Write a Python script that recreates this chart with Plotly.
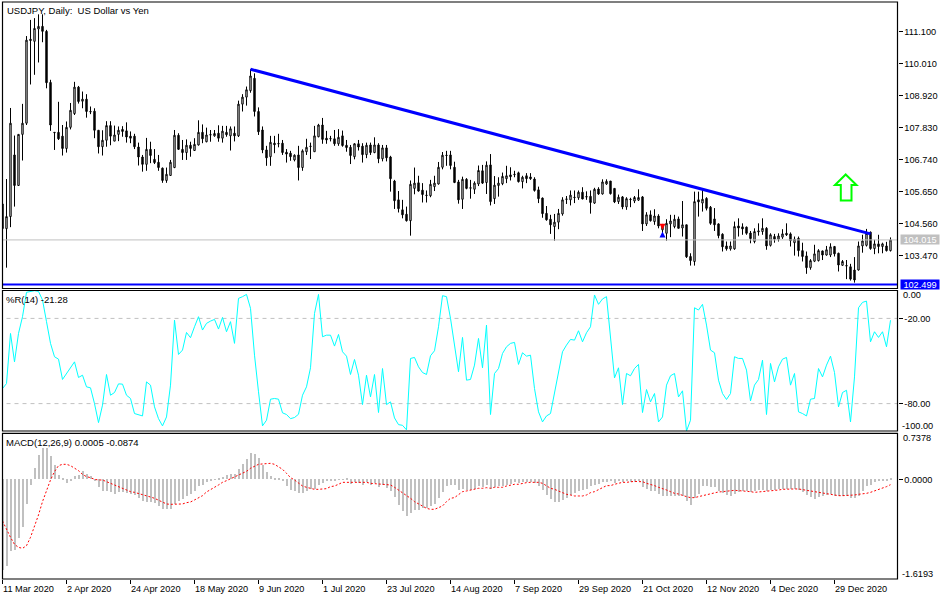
import plotly.graph_objects as go

W, H = 950, 600

# USDJPY daily bars
opens = [
    105.24,104.40,104.81,106.91,105.87,107.61,107.99,110.85,110.78,111.20,
    111.29,111.12,109.38,107.68,107.68,107.55,107.13,107.85,108.32,109.22,
    108.74,108.81,108.39,108.40,107.75,107.19,107.41,107.91,107.38,107.61,
    107.78,107.73,107.55,107.55,107.18,106.84,106.59,107.10,106.76,106.66,
    106.46,106.04,106.21,106.48,107.58,107.10,106.99,107.24,107.06,107.25,
    107.68,107.36,107.59,107.56,107.65,107.48,107.68,107.56,107.65,107.56,
    108.64,108.88,109.10,109.52,108.39,107.76,107.08,106.85,107.31,107.30,
    107.31,107.00,106.97,106.74,106.91,106.48,107.02,107.21,107.02,107.53,
    107.93,107.48,107.47,107.46,107.29,107.56,107.24,107.17,106.85,107.29,
    107.21,106.92,107.25,106.99,107.25,106.78,107.15,106.84,106.02,105.38,
    105.04,104.89,104.67,105.77,105.96,105.71,105.54,105.52,105.83,105.92,
    106.49,106.90,106.91,106.49,105.99,105.40,106.08,105.79,105.74,105.92,
    106.37,105.97,106.57,105.42,105.87,105.93,106.10,106.23,106.25,106.30,
    106.00,106.20,106.16,106.09,105.72,105.44,104.92,104.72,104.47,104.62,
    104.90,105.41,105.38,105.47,105.45,105.64,105.49,105.50,105.27,105.75,
    105.58,105.92,106.02,105.77,105.32,105.48,105.14,105.40,105.34,105.37,
    105.48,104.56,104.87,104.64,104.83,104.36,104.24,104.56,104.47,104.73,
    104.42,104.53,103.45,103.28,105.38,105.27,105.43,105.13,104.73,104.56,
    104.21,103.81,103.71,103.71,104.49,104.46,104.45,104.25,103.96,104.29,
    104.30,104.41,103.83,104.13,104.04,104.11,104.24,104.22,103.92,104.07,
    103.65,103.47,103.07,103.29,103.31,103.64,103.50,103.50,103.79,103.56,
    103.15,103.14,103.10,102.99,102.99,103.81,103.83,104.28,103.72,103.88,
    103.79,103.81,103.65,
]
highs = [
    105.24,106.09,108.51,107.57,107.61,108.65,110.96,111.51,111.57,111.70,
    111.70,111.17,109.47,107.68,108.72,107.93,108.05,108.68,109.40,109.26,
    109.07,108.98,108.56,108.50,107.75,107.75,108.06,108.06,107.91,107.88,
    107.89,108.02,107.71,107.63,107.33,106.91,107.49,107.36,107.11,106.91,
    106.48,106.48,106.74,107.76,107.65,107.42,107.44,107.36,107.48,108.09,
    107.95,107.84,107.76,107.76,107.92,107.90,107.90,107.88,107.88,108.76,
    108.98,109.24,109.83,109.69,108.53,107.88,107.22,107.56,107.56,107.63,
    107.42,107.11,107.05,106.93,107.22,107.10,107.46,107.33,107.90,107.97,
    108.17,107.73,107.56,107.76,107.79,107.74,107.42,107.25,107.31,107.42,
    107.31,107.33,107.33,107.51,107.31,107.25,107.25,106.88,106.06,105.68,
    105.38,105.15,106.04,106.48,106.20,105.95,105.70,106.06,106.20,106.67,
    107.01,107.05,107.05,106.68,106.06,106.17,106.12,106.06,106.01,106.55,
    106.57,106.69,106.94,106.19,106.15,106.31,106.54,106.49,106.37,106.34,
    106.20,106.29,106.29,106.15,105.83,105.46,105.17,104.87,104.90,105.07,
    105.47,105.51,105.70,105.70,105.70,105.81,105.67,105.70,105.79,105.81,
    106.08,106.08,106.02,105.77,105.56,105.51,105.47,105.45,105.51,105.74,
    105.51,104.96,105.02,105.06,104.89,104.56,104.72,104.87,104.87,104.81,
    105.34,104.53,103.56,105.66,105.66,105.75,105.47,105.17,105.10,104.58,
    104.24,103.96,103.96,104.64,104.75,104.58,104.47,104.32,104.41,104.58,
    104.75,104.45,104.24,104.22,104.24,104.38,104.58,104.27,104.13,104.13,
    103.92,103.62,103.36,103.85,103.70,103.65,103.81,103.90,103.81,103.58,
    103.33,103.33,103.20,103.43,103.96,104.19,104.39,104.30,104.02,104.19,
    103.92,103.95,104.10,
]
lows = [
    104.40,103.07,104.45,105.15,105.87,106.72,107.93,109.31,109.64,110.06,
    110.75,109.18,107.73,107.08,107.42,106.89,106.99,107.78,108.27,108.66,
    108.50,108.18,108.30,107.48,106.96,106.89,107.19,107.24,107.38,107.38,
    107.53,107.33,107.31,107.11,106.55,106.34,106.37,106.63,106.60,106.37,
    105.96,105.96,106.21,106.46,107.08,106.74,106.74,106.85,107.06,107.23,
    107.31,107.34,107.36,107.53,107.36,107.33,107.53,107.06,107.37,107.52,
    108.39,108.59,109.03,108.22,107.59,106.97,106.54,106.54,106.97,107.17,
    106.91,106.65,106.71,106.69,106.04,106.37,106.91,106.77,107.02,107.51,
    107.29,107.29,107.37,107.22,107.22,107.19,107.02,106.60,106.76,107.06,
    106.65,106.80,106.91,106.97,106.63,106.69,106.69,105.66,105.07,104.95,
    104.75,104.64,104.16,105.57,105.66,105.29,105.29,105.47,105.68,105.90,
    106.42,106.54,106.42,105.95,105.25,105.07,105.74,105.42,105.58,105.85,
    105.92,105.58,105.19,105.24,105.49,105.88,105.95,106.04,106.15,105.97,
    105.77,105.95,106.06,105.66,105.27,104.77,104.67,104.22,103.99,104.38,
    104.84,105.24,105.19,105.27,105.38,105.40,105.38,104.91,105.24,105.55,
    105.56,105.89,105.56,105.27,105.24,105.06,105.04,105.13,105.27,105.34,
    104.32,104.49,104.64,104.53,104.41,104.19,103.99,104.11,104.41,104.41,
    104.13,103.40,103.14,103.14,104.81,104.98,105.02,104.53,104.32,104.07,
    103.62,103.65,103.65,103.68,104.13,104.19,104.19,103.90,103.90,104.16,
    104.19,103.68,103.79,103.92,103.96,104.05,104.15,103.79,103.48,103.45,
    103.28,102.86,103.00,103.26,103.28,103.33,103.48,103.43,103.45,102.94,
    103.13,102.68,102.63,102.56,102.97,103.58,103.79,103.68,103.53,103.56,
    103.56,103.62,103.62,
]
closes = [
    104.40,104.81,107.99,105.87,107.61,107.99,110.82,110.81,111.22,111.29,
    111.12,109.37,107.93,107.67,107.46,107.13,107.85,108.43,109.22,108.73,
    108.81,108.39,108.38,107.75,107.19,107.41,107.91,107.55,107.59,107.75,
    107.71,107.52,107.48,107.19,106.84,106.59,107.10,106.89,106.65,106.48,
    106.04,106.25,106.66,107.58,107.10,106.99,107.24,107.13,107.27,107.68,
    107.46,107.59,107.60,107.64,107.48,107.72,107.60,107.80,107.56,108.64,
    108.88,109.13,109.60,108.39,107.70,107.08,106.81,107.34,107.26,107.29,
    106.99,106.94,106.85,106.90,106.48,107.05,107.17,107.20,107.56,107.93,
    107.44,107.42,107.46,107.29,107.51,107.23,107.16,106.89,107.29,107.18,
    106.92,107.24,106.99,107.25,106.78,107.15,106.81,106.10,105.35,105.08,
    104.87,104.67,105.91,105.95,105.68,105.56,105.53,105.91,105.95,106.49,
    106.90,106.89,106.55,105.97,105.38,106.08,105.77,105.78,105.95,106.38,
    105.95,106.56,105.32,105.88,105.95,106.18,106.20,106.17,106.24,106.00,
    106.15,106.10,106.10,105.70,105.42,104.91,104.70,104.53,104.62,104.92,
    105.38,105.40,105.54,105.46,105.64,105.41,105.48,105.29,105.74,105.58,
    105.99,106.01,105.59,105.31,105.47,105.14,105.42,105.39,105.46,105.46,
    104.56,104.87,104.67,104.83,104.49,104.51,104.58,104.66,104.72,104.41,
    104.53,103.44,103.31,105.32,105.31,105.40,105.09,104.58,104.53,104.16,
    103.78,103.71,103.81,104.47,104.42,104.39,104.24,104.06,104.30,104.32,
    104.41,103.81,104.19,104.04,104.15,104.22,104.19,103.99,104.04,103.65,
    103.45,103.07,103.31,103.54,103.65,103.50,103.68,103.78,103.54,103.16,
    103.28,103.13,102.68,102.65,103.81,103.98,104.24,103.72,103.88,103.79,
    103.88,103.65,104.015,
]

# Williams %R(14)
wpr = [
    -69.4,-65.9,-30.6,-50.6,-30.6,-18.8,-1.6,-0.8,-0.5,-1.0,
    -7.0,-22.3,-37.6,-47.0,-48.7,-63.0,-58.8,-55.3,-50.6,-61.6,
    -60.0,-68.2,-68.9,-80.0,-93.4,-81.1,-59.5,-74.1,-72.2,-66.1,
    -66.3,-74.1,-76.4,-87.0,-87.7,-88.7,-64.7,-67.0,-82.3,-90.6,
    -95.7,-89.4,-67.0,-21.2,-45.4,-42.3,-29.9,-33.6,-25.9,-18.8,
    -28.2,-23.5,-21.9,-20.7,-27.5,-19.3,-29.4,-22.3,-37.6,-5.9,
    -4.7,-3.1,-12.9,-45.9,-71.7,-95.7,-91.7,-76.9,-76.4,-76.9,
    -86.5,-87.7,-90.6,-89.8,-87.5,-74.1,-68.2,-54.8,-16.5,-3.1,
    -32.9,-31.8,-31.8,-39.5,-31.3,-43.5,-46.6,-59.5,-48.9,-60.0,
    -80.7,-60.0,-75.3,-59.5,-86.3,-55.3,-80.7,-78.8,-90.1,-94.8,
    -95.3,-98.5,-48.2,-47.5,-54.1,-58.1,-59.5,-46.3,-42.8,-25.9,
    -4.0,-4.7,-20.0,-38.8,-57.6,-33.4,-63.5,-63.0,-52.9,-34.1,
    -54.8,-24.7,-87.7,-58.8,-55.3,-44.7,-40.0,-37.6,-36.9,-52.4,
    -44.2,-46.6,-45.9,-69.4,-85.8,-92.9,-88.7,-87.0,-72.9,-58.8,
    -43.5,-38.8,-34.8,-35.3,-28.7,-36.5,-30.1,-25.9,-3.5,-10.1,
    -6.3,-4.7,-32.9,-61.9,-54.8,-80.7,-58.8,-60.4,-55.3,-52.4,
    -86.3,-70.1,-78.8,-72.9,-92.9,-89.4,-67.0,-60.4,-58.8,-75.3,
    -71.0,-99.3,-91.7,-12.5,-14.1,-10.1,-24.7,-42.3,-44.2,-63.5,
    -72.9,-77.1,-72.9,-47.0,-48.2,-48.2,-56.4,-78.1,-67.0,-63.0,
    -49.4,-87.7,-51.7,-64.7,-54.1,-48.7,-47.5,-67.0,-58.8,-85.8,
    -87.0,-88.7,-76.9,-76.4,-55.3,-61.2,-52.9,-46.6,-58.1,-82.3,
    -72.2,-70.6,-92.9,-61.2,-12.5,-8.7,-7.8,-36.5,-29.4,-33.4,
    -29.4,-40.0,-21.28,
]

# MACD(12,26,9) histogram and signal
macd = [
    -1.476,-1.421,-1.177,-1.150,-0.966,-0.787,-0.401,-0.103,0.179,0.396,
    0.505,0.505,0.380,0.222,0.060,0.002,-0.065,-0.038,0.054,0.071,
    0.125,0.087,0.043,-0.038,-0.136,-0.190,-0.190,-0.212,-0.239,-0.217,
    -0.217,-0.228,-0.244,-0.266,-0.309,-0.363,-0.374,-0.374,-0.391,-0.434,
    -0.483,-0.488,-0.483,-0.401,-0.363,-0.326,-0.271,-0.239,-0.190,-0.119,
    -0.092,-0.054,-0.022,-0.011,0.011,0.033,0.071,0.087,0.087,0.168,
    0.244,0.331,0.423,0.412,0.342,0.233,0.109,0.043,0.016,0.005,
    -0.038,-0.119,-0.174,-0.201,-0.228,-0.228,-0.201,-0.163,-0.163,-0.092,
    -0.065,-0.038,-0.038,-0.038,-0.011,-0.001,0.001,-0.081,-0.054,-0.065,
    -0.092,-0.049,-0.092,-0.065,-0.130,-0.092,-0.146,-0.190,-0.298,-0.418,
    -0.515,-0.597,-0.553,-0.510,-0.499,-0.472,-0.472,-0.434,-0.401,-0.309,
    -0.217,-0.109,-0.092,-0.092,-0.174,-0.163,-0.184,-0.174,-0.157,-0.109,
    -0.130,-0.092,-0.163,-0.130,-0.119,-0.119,-0.092,-0.076,-0.049,-0.065,
    -0.049,-0.054,-0.049,-0.065,-0.119,-0.174,-0.255,-0.320,-0.374,-0.369,
    -0.336,-0.309,-0.266,-0.228,-0.201,-0.174,-0.163,-0.119,-0.092,-0.081,
    -0.043,-0.049,-0.038,-0.065,-0.038,-0.054,-0.038,-0.054,-0.043,-0.038,
    -0.136,-0.163,-0.190,-0.190,-0.239,-0.282,-0.282,-0.282,-0.271,-0.271,
    -0.282,-0.363,-0.429,-0.309,-0.239,-0.119,-0.119,-0.130,-0.130,-0.190,
    -0.228,-0.266,-0.282,-0.239,-0.212,-0.201,-0.201,-0.212,-0.201,-0.174,
    -0.174,-0.190,-0.174,-0.174,-0.163,-0.157,-0.157,-0.163,-0.157,-0.174,
    -0.217,-0.266,-0.293,-0.320,-0.293,-0.271,-0.260,-0.239,-0.271,-0.271,
    -0.271,-0.282,-0.315,-0.309,-0.271,-0.201,-0.109,-0.092,-0.054,-0.038,
    -0.022,-0.022,0.0005,
]
signal = [
    -0.678,-0.825,-0.944,-1.058,-1.107,-1.123,-1.080,-0.944,-0.770,-0.580,
    -0.363,-0.174,-0.011,0.125,0.222,0.244,0.244,0.222,0.179,0.141,
    0.081,0.043,0.027,0.0,-0.011,-0.011,-0.038,-0.065,-0.092,-0.130,
    -0.157,-0.179,-0.201,-0.212,-0.228,-0.255,-0.271,-0.288,-0.309,-0.336,
    -0.374,-0.401,-0.407,-0.407,-0.401,-0.401,-0.380,-0.369,-0.336,-0.298,
    -0.266,-0.206,-0.174,-0.130,-0.092,-0.049,-0.022,0.011,0.033,0.071,
    0.098,0.130,0.179,0.206,0.244,0.250,0.260,0.260,0.244,0.206,
    0.163,0.098,0.027,-0.011,-0.065,-0.109,-0.130,-0.152,-0.163,-0.163,
    -0.157,-0.152,-0.119,-0.109,-0.081,-0.049,-0.049,-0.049,-0.049,-0.049,
    -0.049,-0.049,-0.065,-0.065,-0.076,-0.081,-0.081,-0.092,-0.130,-0.174,
    -0.212,-0.266,-0.309,-0.363,-0.401,-0.445,-0.472,-0.488,-0.488,-0.461,
    -0.434,-0.363,-0.309,-0.298,-0.255,-0.201,-0.190,-0.174,-0.152,-0.146,
    -0.146,-0.136,-0.146,-0.130,-0.130,-0.130,-0.109,-0.092,-0.081,-0.081,
    -0.065,-0.054,-0.049,-0.049,-0.049,-0.065,-0.109,-0.146,-0.163,-0.190,
    -0.217,-0.244,-0.255,-0.271,-0.271,-0.271,-0.255,-0.217,-0.201,-0.174,
    -0.136,-0.103,-0.103,-0.081,-0.065,-0.049,-0.049,-0.038,-0.033,-0.038,
    -0.038,-0.065,-0.081,-0.103,-0.130,-0.146,-0.174,-0.201,-0.228,-0.239,
    -0.266,-0.282,-0.298,-0.298,-0.282,-0.266,-0.255,-0.239,-0.217,-0.206,
    -0.201,-0.190,-0.179,-0.179,-0.184,-0.195,-0.195,-0.201,-0.212,-0.206,
    -0.201,-0.190,-0.179,-0.179,-0.174,-0.163,-0.157,-0.157,-0.157,-0.157,
    -0.168,-0.184,-0.195,-0.201,-0.212,-0.228,-0.244,-0.250,-0.255,-0.266,
    -0.266,-0.266,-0.266,-0.255,-0.244,-0.239,-0.228,-0.212,-0.190,-0.174,
    -0.146,-0.119,-0.0874,
]

date_bars = [0, 16, 32, 48, 64, 80, 96, 112, 128, 144, 160, 176, 192, 208]
date_labels = ["11 Mar 2020", "2 Apr 2020", "24 Apr 2020", "18 May 2020", "9 Jun 2020",
               "1 Jul 2020", "23 Jul 2020", "14 Aug 2020", "7 Sep 2020", "29 Sep 2020",
               "21 Oct 2020", "12 Nov 2020", "4 Dec 2020", "29 Dec 2020"]
price_ticks = [111.1, 110.01, 108.92, 107.83, 106.74, 105.65, 104.56, 103.47]

trend_bars = [62, 217]
trend_prices = [109.83, 104.22]
last_price = 104.015
support_price = 102.499
sell_bar, sell_price = 165, 104.36
buy_bar, buy_price = 165, 104.30

FONT = "Liberation Sans"
bars = list(range(len(closes)))


# pixel helpers, the panes are laid out in screen pixels like the terminal does
def px(x):
    return x / W


def py(y):
    return 1 - y / H


PANE_L, PANE_R = 2.5, 897.5
panes = [(2, 288.5), (290.5, 431), (433.3, 579)]

fig = go.Figure()

fig.add_trace(go.Candlestick(
    x=bars, open=opens, high=highs, low=lows, close=closes,
    increasing=dict(line=dict(color="black", width=1), fillcolor="white"),
    decreasing=dict(line=dict(color="black", width=1), fillcolor="black"),
    whiskerwidth=0, yaxis="y", showlegend=False,
))
fig.add_trace(go.Scatter(x=[bars[0], bars[-1] + 5], y=[last_price, last_price], mode="lines",
                         line=dict(color="#c0c0c0", width=1), yaxis="y"))
fig.add_trace(go.Scatter(x=[bars[0] - 1, bars[-1] + 5], y=[support_price, support_price], mode="lines",
                         line=dict(color="#0000ff", width=2), yaxis="y"))
fig.add_trace(go.Scatter(x=trend_bars, y=trend_prices, mode="lines",
                         line=dict(color="#0000ff", width=3), yaxis="y"))
fig.add_trace(go.Scatter(x=[sell_bar], y=[sell_price], mode="markers", yaxis="y",
                         marker=dict(symbol="arrow-down", size=6, color="#ff0000")))
fig.add_trace(go.Scatter(x=[buy_bar], y=[buy_price], mode="markers", yaxis="y",
                         marker=dict(symbol="arrow-up", size=6, color="#0000ff")))

for level in [-20, -80]:
    fig.add_trace(go.Scatter(x=[bars[0] - 1, bars[-1] + 5], y=[level, level], mode="lines",
                             line=dict(color="#c0c0c0", width=1, dash="4px,4px"), yaxis="y2"))
fig.add_trace(go.Scatter(x=bars, y=wpr, mode="lines", line=dict(color="#00ffff", width=1), yaxis="y2"))

fig.add_trace(go.Bar(x=bars, y=macd, width=0.25, marker=dict(color="#c0c0c0", line=dict(width=0)), yaxis="y3"))
fig.add_trace(go.Scatter(x=bars, y=signal, mode="lines",
                         line=dict(color="#ff0000", width=1, dash="2px,2px"), yaxis="y3"))

title_font = dict(family=FONT, size=9.5, color="black")
tick_font = dict(family=FONT, size=9.2, color="black")
common_y = dict(side="right", anchor="x", showgrid=False, zeroline=False, showline=False,
                ticks="outside", ticklen=4, tickwidth=1, tickcolor="black", tickfont=tick_font,
                fixedrange=True)

annotations = []


def label(x, y, text, font):
    annotations.append(dict(xref="paper", yref="paper", x=px(x), y=py(y), text=text, showarrow=False,
                            xanchor="left", yanchor="middle", font=font, xshift=-2))


label(7, 10, "USDJPY, Daily:  US Dollar vs Yen", title_font)
label(6, 299.7, "%R(14) -21.28", title_font)
label(6, 442.3, "MACD(12,26,9) 0.0005 -0.0874", title_font)

# edge scale labels sit inside the pane, not on their tick
label(903, 295, "0.00", tick_font)
label(902, 425.7, "-100.00", tick_font)
label(903, 438, "0.7378", tick_font)
label(902, 574, "-1.6193", tick_font)

for bar, text in zip(date_bars, date_labels):
    annotations.append(dict(xref="x", yref="paper", x=bar, y=py(589), text=text, showarrow=False,
                            xanchor="left", yanchor="middle", font=tick_font, xshift=-2))

white_font = dict(family=FONT, size=9.2, color="white")
annotations.append(dict(xref="paper", yref="y", x=px(920), y=last_price, text=f"{last_price:.3f}",
                        showarrow=False, xanchor="center", yanchor="middle", font=white_font,
                        bgcolor="#c0c0c0", width=38, height=9, borderpad=0))
annotations.append(dict(xref="paper", yref="y", x=px(920), y=support_price, text=f"{support_price:.3f}",
                        showarrow=False, xanchor="center", yanchor="middle", font=white_font,
                        bgcolor="#0000ff", width=38, height=9, borderpad=0))

shapes = []
for top, bottom in panes:
    shapes.append(dict(type="rect", xref="paper", yref="paper", x0=px(PANE_L), x1=px(PANE_R),
                       y0=py(bottom), y1=py(top), line=dict(color="black", width=1.2), layer="above"))

# green arrow object
arrow = [(845.7, 174.5), (856.5, 185), (851.5, 185), (851.5, 200.5), (840.8, 200.5), (840.8, 185), (835, 185)]
arrow_path = "M " + " L ".join(f"{px(x):.5f} {py(y):.5f}" for x, y in arrow) + " Z"
shapes.append(dict(type="path", xref="paper", yref="paper", path=arrow_path,
                   line=dict(color="#00ff00", width=2), fillcolor="white"))

fig.update_layout(
    width=W, height=H,
    margin=dict(l=0, r=0, t=0, b=0),
    paper_bgcolor="white", plot_bgcolor="white",
    showlegend=False,
    xaxis=dict(domain=[px(PANE_L), px(PANE_R)], range=[0, (PANE_R - 2.5) / 4], anchor="y3",
               showgrid=False, zeroline=False, showline=False, rangeslider=dict(visible=False),
               tickvals=date_bars, ticktext=[""] * len(date_bars), ticks="outside", ticklen=4,
               tickcolor="black", fixedrange=True),
    yaxis=dict(domain=[py(panes[0][1]), py(panes[0][0])], range=[102.36, 112.12],
               tickvals=price_ticks, ticktext=[f"{v:.3f}" for v in price_ticks], **common_y),
    yaxis2=dict(domain=[py(panes[1][1]), py(panes[1][0])], range=[-99.3, -0.35],
                tickvals=[-20, -80], ticktext=["-20.00", "-80.00"], **common_y),
    yaxis3=dict(domain=[py(panes[2][1]), py(panes[2][0])], range=[-1.622, 0.7487],
                tickvals=[0], ticktext=["0.0000"], **common_y),
    annotations=annotations,
    shapes=shapes,
    bargap=0,
    boxgap=0.5,
)

fig.write_html("out.html", config={"displayModeBar": False},
               post_script="document.body.style.margin='0';")
